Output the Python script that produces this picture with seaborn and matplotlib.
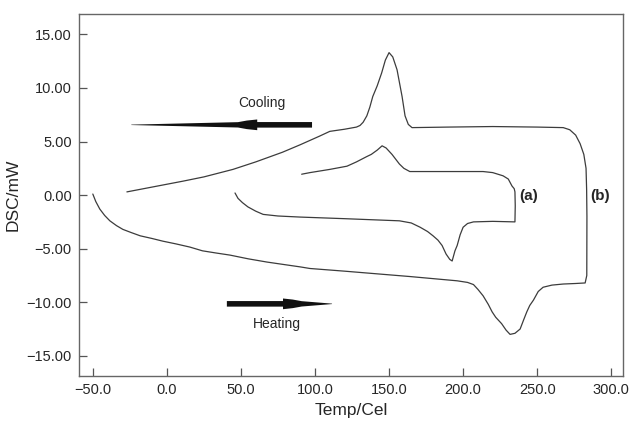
import matplotlib
matplotlib.use("Agg")
import matplotlib.pyplot as plt
from matplotlib.patches import Polygon
from matplotlib.ticker import FixedLocator, FuncFormatter
import pandas as pd
import seaborn as sns

# sample (a): heating run, hold, cooling run
temp_a = [46, 48, 51, 54.7, 60, 65, 75, 90, 120, 157, 165, 171, 176, 179.7, 183,
          185.8, 188.5, 191, 192.6, 194.5, 196, 198, 200, 203, 207, 220, 235,
          235.2, 235, 234.5, 233, 230.5, 227, 220, 213.5, 190, 164, 160, 157,
          152, 148, 145.3, 142, 138, 135, 128, 121.6, 110, 96.6, 91]
dsc_a = [0.2, -0.3, -0.7, -1.1, -1.5, -1.8, -1.95, -2.05, -2.2, -2.4, -2.6, -3.0,
         -3.4, -3.8, -4.2, -4.7, -5.5, -6.0, -6.15, -5.2, -4.7, -3.7, -3.0,
         -2.65, -2.5, -2.45, -2.5, -1.0, 0.3, 0.6, 0.85, 1.5, 1.8, 2.1, 2.2,
         2.2, 2.2, 2.5, 2.9, 3.8, 4.4, 4.6, 4.2, 3.8, 3.6, 3.1, 2.7, 2.4, 2.1, 1.95]

# sample (b)
temp_b = [-50, -48, -45.3, -42, -38.5, -34, -29.7, -24, -18, -10, -2.7, 6, 15.5,
          24, 33, 42.6, 55, 67.6, 80, 90, 96.6, 120, 142, 164, 180, 196, 203,
          207, 210, 213.5, 217, 219.6, 222, 226, 229, 231.7, 235, 238.5, 241,
          243, 245, 247.5, 250.7, 254, 260, 267.6, 276, 282.4,
          283.5, 283.6, 283.4, 283, 281.5, 279, 276, 272, 267.6, 250, 220, 190,
          165.5, 163, 160.8, 158.8, 155.4, 152.5, 150, 147.5, 145, 142, 139,
          137, 135, 132.5, 130.4, 128, 120, 110, 103, 90, 78, 60, 44.6, 25,
          10.8, -10, -27]
dsc_b = [0.1, -0.6, -1.3, -1.9, -2.4, -2.85, -3.2, -3.5, -3.8, -4.05, -4.3,
         -4.55, -4.85, -5.2, -5.4, -5.6, -5.95, -6.25, -6.5, -6.7, -6.85, -7.1,
         -7.35, -7.6, -7.8, -8.0, -8.15, -8.35, -8.8, -9.4, -10.2, -10.9, -11.4,
         -12.0, -12.6, -13.0, -12.9, -12.5, -11.6, -10.9, -10.3, -9.8, -9.0,
         -8.6, -8.4, -8.3, -8.25, -8.2,
         -7.5, -2.0, 0.5, 2.5, 3.8, 4.8, 5.6, 6.1, 6.3, 6.35, 6.4, 6.35,
         6.3, 6.6, 7.4, 9.2, 11.7, 12.9, 13.3, 12.6, 11.4, 10.2, 9.2, 8.2,
         7.4, 6.8, 6.5, 6.35, 6.15, 5.95, 5.5, 4.7, 4.0, 3.1, 2.4, 1.7, 1.3,
         0.75, 0.3]

x_ticks = [-50, 0, 50, 100, 150, 200, 250, 300]
y_ticks = [-15, -10, -5, 0, 5, 10, 15]

df = pd.concat([
    pd.DataFrame({"Temp": temp_a, "DSC": dsc_a, "sample": "(a)"}),
    pd.DataFrame({"Temp": temp_b, "DSC": dsc_b, "sample": "(b)"}),
])

sns.set_theme(style="white")
plt.rcParams["font.family"] = ["Liberation Sans", "DejaVu Sans"]

fig, ax = plt.subplots(figsize=(6.3, 4.26), dpi=100)
fig.subplots_adjust(left=0.125, right=0.989, top=0.967, bottom=0.117)

for name, grp in df.groupby("sample"):
    sns.lineplot(data=grp, x="Temp", y="DSC", sort=False, estimator=None,
                 color="#3c3c3c", linewidth=0.9, ax=ax)


def wedge_arrow(ax, x_tail, x_bump, x_neck, x_tip, y):
    # thick bar, small bump, then a long taper to the point
    d = 1 if x_tip > x_tail else -1
    pts = [(x_tail, y + 0.26), (x_bump, y + 0.26), (x_bump, y + 0.5),
           (x_neck, y + 0.4), (x_neck + d * 6, y + 0.25), (x_tip, y + 0.02),
           (x_tip, y - 0.02), (x_neck + d * 6, y - 0.25), (x_neck, y - 0.4),
           (x_bump, y - 0.5), (x_bump, y - 0.26), (x_tail, y - 0.26)]
    ax.add_patch(Polygon(pts, closed=True, color="#111111", lw=0))


wedge_arrow(ax, 98, 61, 54, -24, 6.56)
wedge_arrow(ax, 40.5, 78.4, 85, 111.5, -10.15)

ax.text(64, 8.6, "Cooling", ha="center", va="center", fontsize=10)
ax.text(74, -12.0, "Heating", ha="center", va="center", fontsize=10)
ax.text(244, -0.1, "(a)", ha="center", va="center", fontsize=11, fontweight="bold")
ax.text(292.5, -0.1, "(b)", ha="center", va="center", fontsize=11, fontweight="bold")

ax.set_xlim(-59.5, 308)
ax.set_ylim(-16.9, 16.9)
ax.xaxis.set_major_locator(FixedLocator(x_ticks))
ax.yaxis.set_major_locator(FixedLocator(y_ticks))
ax.xaxis.set_major_formatter(FuncFormatter(lambda v, p: f"{v:.1f}".replace("-", "\u2212")))
ax.yaxis.set_major_formatter(FuncFormatter(lambda v, p: f"{v:.2f}".replace("-", "\u2212")))
ax.tick_params(direction="in", length=6, width=0.9, color="#555555",
               labelsize=10.5, pad=5, bottom=True, left=True)
for s in ax.spines.values():
    s.set_color("#666666")
    s.set_linewidth(1.0)

ax.set_xlabel("Temp/Cel", fontsize=12.5, labelpad=4)
ax.set_ylabel("DSC/mW", fontsize=12.5, labelpad=4)

fig.savefig("out.png", dpi=100)
